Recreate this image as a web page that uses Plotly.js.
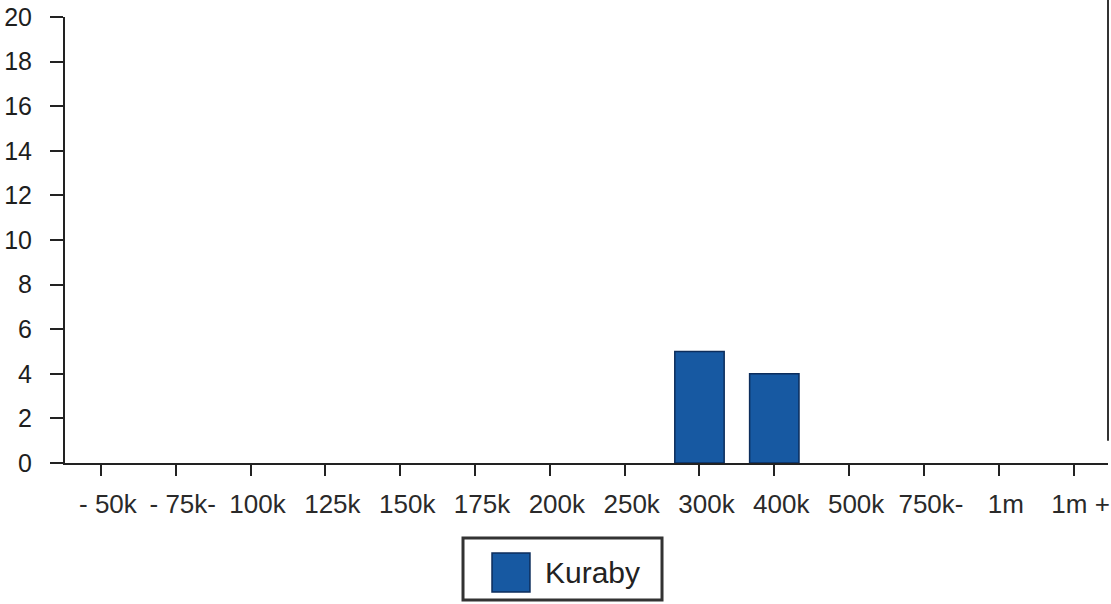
<!DOCTYPE html>
<html>
<head>
<meta charset="utf-8">
<script src="https://cdn.plot.ly/plotly-3.0.1.min.js"></script>
<style>html,body{margin:0;padding:0;background:#fff;}#chart{width:1111px;height:604px;}</style>
</head>
<body>
<div id="chart"></div>
<script>
const categories = ["- 50k", "- 75k-", "100k", "125k", "150k", "175k", "200k", "250k", "300k", "400k", "500k", "750k-", "1m", "1m +"];
const seriesName = "Kuraby";
const values = [0, 0, 0, 0, 0, 0, 0, 0, 5, 4, 0, 0, 0, 0];
const yTicks = [0, 2, 4, 6, 8, 10, 12, 14, 16, 18, 20];

const barColor = '#1759a2';
const barEdge = '#0c2d5c';
const idx = categories.map((_, i) => i);
const trace = {
  type: 'bar',
  x: idx,
  y: values,
  name: seriesName,
  width: 0.66,
  marker: {color: barColor, line: {color: barEdge, width: values.map(v => v > 0 ? 1.5 : 0)}},
  showlegend: false
};

const layout = {
  width: 1111, height: 604,
  margin: {l: 65, r: 3, t: 17, b: 141},
  paper_bgcolor: '#fff', plot_bgcolor: '#fff',
  font: {family: 'Liberation Sans, Arial, sans-serif', size: 24, color: '#222'},
  xaxis: {
    range: [-0.48, 13.46],
    tickmode: 'array', tickvals: idx, ticktext: categories,
    ticks: 'outside', ticklen: 11, tickwidth: 2, tickcolor: '#222',
    showline: true, linecolor: '#222', linewidth: 2,
    showgrid: false, zeroline: false,
    ticklabelshift: 7,
    ticklabelstandoff: 6,
    ticklabeloverflow: 'allow',
    tickangle: 0,
    tickfont: {size: 26, color: '#2a2a2a'},
    fixedrange: true
  },
  yaxis: {
    range: [0, 20],
    tickmode: 'array', tickvals: yTicks,
    ticks: 'outside', ticklen: 13, tickwidth: 2, tickcolor: '#222',
    showline: true, linecolor: '#222', linewidth: 2,
    showgrid: false, zeroline: false,
    ticklabelstandoff: 13,
    tickfont: {size: 25, color: '#1e1e1e'},
    fixedrange: true
  },
  shapes: [
    {type: 'line', xref: 'paper', yref: 'paper', x0: 1, x1: 1, y0: 0.05, y1: 1.038, line: {color: '#333', width: 2}},
    // legend box
    {type: 'rect', xref: 'paper', yref: 'paper', x0: 0.3816, x1: 0.5724, y0: -0.1682, y1: -0.3072,
     line: {color: '#333', width: 3}, fillcolor: '#fff'},
    // legend swatch
    {type: 'rect', xref: 'paper', yref: 'paper', x0: 0.4094, x1: 0.4458, y0: -0.2018, y1: -0.2892,
     line: {color: barEdge, width: 1.5}, fillcolor: barColor}
  ],
  annotations: [
    {xref: 'paper', yref: 'paper', x: 0.4583, y: -0.2444, xanchor: 'left', yanchor: 'middle',
     text: seriesName, showarrow: false, font: {size: 30, color: '#222'}}
  ],
  showlegend: false
};

Plotly.newPlot('chart', [trace], layout, {displayModeBar: false, staticPlot: true});
</script>
</body>
</html>
